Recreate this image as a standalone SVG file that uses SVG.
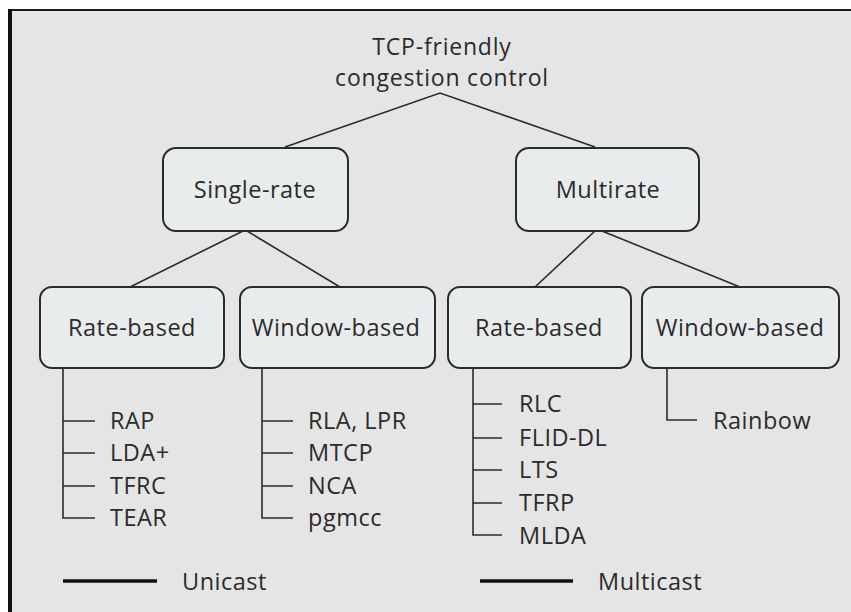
<svg xmlns="http://www.w3.org/2000/svg" width="851" height="612" viewBox="0 0 851 612">
<style>
.t{font-family:"Open Sans","Noto Sans","DejaVu Sans",sans-serif;font-size:23.5px;letter-spacing:0.5px;fill:#2b2b2b}
.h{font-size:23px;letter-spacing:0.8px}
.m{text-anchor:middle}
.box{fill:#e9ecec;stroke:#2b2b2b;stroke-width:2}
.ln{stroke:#2b2b2b;stroke-width:1.6;fill:none}
.lg{stroke:#111;stroke-width:3.5;fill:none}
</style>
<rect x="0" y="0" width="851" height="612" fill="#ffffff"/>
<rect x="10" y="10" width="841" height="602" fill="#e5e5e5"/>
<line x1="10" y1="10" x2="851" y2="10" stroke="#1a1a1a" stroke-width="2"/>
<line x1="10" y1="9" x2="10" y2="612" stroke="#111" stroke-width="4"/>
<g id="connectors">
<polyline class="ln" points="285,147 440,93 595,147"/>
<line class="ln" x1="243" y1="231" x2="130" y2="287"/>
<line class="ln" x1="247" y1="231" x2="340" y2="287"/>
<line class="ln" x1="595" y1="231" x2="535" y2="287"/>
<line class="ln" x1="602" y1="231" x2="740" y2="287"/>
<path class="ln" d="M63,368V518H95M63,421H95M63,453H95M63,486H95"/>
<path class="ln" d="M262,368V518H293M262,421H293M262,453H293M262,486H293"/>
<path class="ln" d="M473,368V535H502M473,404H502M473,438H502M473,470H502M473,503H502"/>
<path class="ln" d="M667,368V420H697"/>
</g>
<g id="root"><text class="t h m" x="442" y="55">TCP-friendly</text><text class="t h m" x="442" y="86">congestion control</text></g>
<g id="single-rate"><rect class="box" x="163" y="148" width="185" height="83" rx="13"/><text class="t m" x="255" y="198">Single-rate</text></g>
<g id="multirate"><rect class="box" x="516" y="148" width="183" height="83" rx="13"/><text class="t m" x="608" y="198">Multirate</text></g>
<g id="uni-rate"><rect class="box" x="40" y="287" width="184" height="81" rx="12"/><text class="t m" x="132" y="336">Rate-based</text></g>
<g id="uni-window"><rect class="box" x="240" y="287" width="195" height="81" rx="12"/><text class="t m" x="336" y="336">Window-based</text></g>
<g id="multi-rate"><rect class="box" x="448" y="287" width="183" height="81" rx="12"/><text class="t m" x="539" y="336">Rate-based</text></g>
<g id="multi-window"><rect class="box" x="642" y="287" width="197" height="81" rx="12"/><text class="t m" x="740" y="336">Window-based</text></g>
<g id="uni-rate-leaves">
<text class="t" x="110" y="429">RAP</text><text class="t" x="110" y="461">LDA+</text><text class="t" x="110" y="494">TFRC</text><text class="t" x="110" y="526">TEAR</text>
</g>
<g id="uni-window-leaves">
<text class="t" x="308" y="429">RLA, LPR</text><text class="t" x="308" y="461">MTCP</text><text class="t" x="308" y="494">NCA</text><text class="t" x="308" y="526">pgmcc</text>
</g>
<g id="multi-rate-leaves">
<text class="t" x="519" y="412">RLC</text><text class="t" x="519" y="446">FLID-DL</text><text class="t" x="519" y="478">LTS</text><text class="t" x="519" y="511">TFRP</text><text class="t" x="519" y="544">MLDA</text>
</g>
<g id="multi-window-leaves"><text class="t" x="713" y="429">Rainbow</text></g>
<g id="legend">
<line class="lg" x1="63" y1="581" x2="157" y2="581"/><text class="t" x="182" y="590">Unicast</text>
<line class="lg" x1="480" y1="581" x2="573" y2="581"/><text class="t" x="598" y="590">Multicast</text>
</g>
</svg>
